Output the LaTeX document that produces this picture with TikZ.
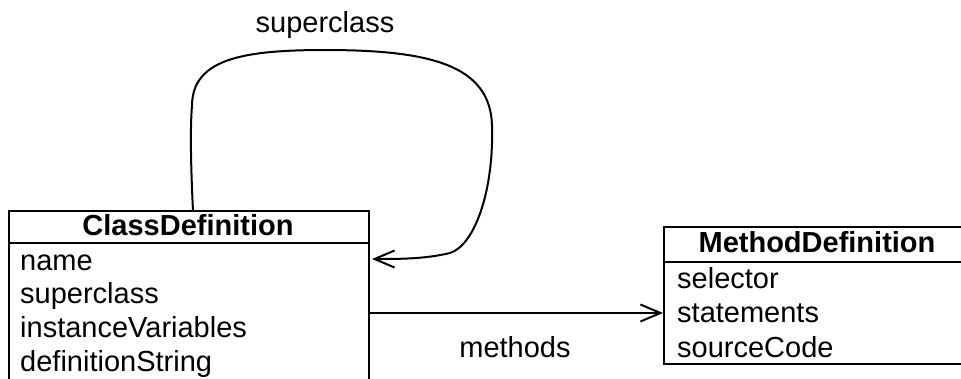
\documentclass[tikz,border=0pt]{standalone}
\usepackage{fontspec}
\setmainfont{Liberation Sans}
\usetikzlibrary{arrows.meta}
\begin{document}
\begin{tikzpicture}[x=1pt,y=-1pt,
  boxline/.style={draw=black, line width=2pt, inner sep=0pt, rectangle},
  attr/.style={anchor=base west, inner sep=0pt, font=\fontsize{29}{34}\selectfont},
  hdr/.style={anchor=base, inner sep=0pt, font=\fontsize{29}{34}\selectfont\bfseries},
  lbl/.style={anchor=base, inner sep=0pt, font=\fontsize{29}{34}\selectfont},
  conn/.style={line width=2pt, -{Straight Barb[length=20pt,width=17pt,line width=2pt]}}]
\useasboundingbox (0,0) rectangle (961,378);
\clip (0,0) rectangle (961,378);
% ClassDefinition box
\node[boxline, minimum width=360pt, minimum height=32pt] (cdh) at (189,227) {};
\node[boxline, minimum width=360pt, minimum height=160pt] (cdb) at (189,323) {};
\node[hdr] (cdt) at (188,235) {ClassDefinition};
\node[attr] (a1) at (20,270) {name};
\node[attr] (a2) at (20,303) {superclass};
\node[attr] (a3) at (20,337) {instanceVariables};
\node[attr] (a4) at (20,371) {definitionString};
% MethodDefinition box
\node[boxline, minimum width=302pt, minimum height=35pt] (mdh) at (815,244.5) {};
\node[boxline, minimum width=302pt, minimum height=102pt] (mdb) at (815,313) {};
\node[hdr] (mdt) at (817,252) {MethodDefinition};
\node[attr] (m1) at (677,288) {selector};
\node[attr] (m2) at (677,322) {statements};
\node[attr] (m3) at (677,357) {sourceCode};
% labels
\node[lbl] (sl) at (325,32) {superclass};
\node[lbl] (ml) at (515,357) {methods};
% connectors
\coordinate (cs) at (193,211);
\coordinate (ce) at (372,259);
\draw[conn] (cs) .. controls (191,170) and (190,130) .. (192,105)
  .. controls (193,60) and (240,50) .. (325,50)
  .. controls (430,50) and (490,65) .. (492,125)
  .. controls (494,190) and (475,245) .. (450,253)
  .. controls (425,259) and (400,259) .. (ce);
\draw[conn] (cdb.east |- 0,313) -- (mdb.west |- 0,313);
\end{tikzpicture}
\end{document}
